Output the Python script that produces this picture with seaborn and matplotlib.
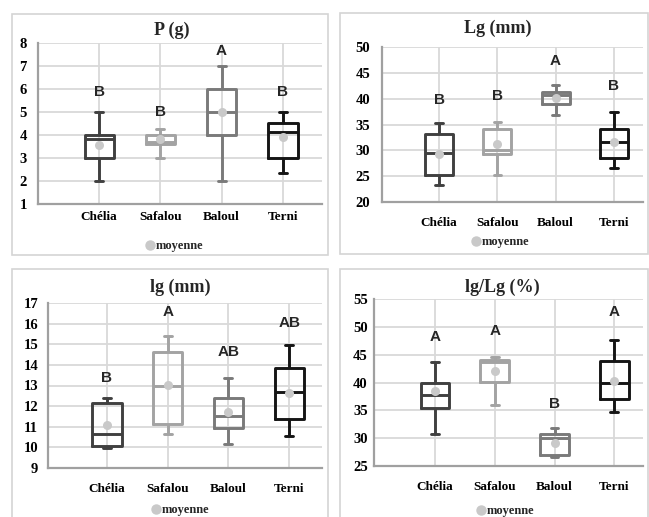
import matplotlib
matplotlib.use("Agg")
import matplotlib.pyplot as plt
from matplotlib.lines import Line2D
from matplotlib.patches import Rectangle
import numpy as np
import pandas as pd
import seaborn as sns

sns.set_style("white")
plt.rcParams["font.family"] = ["Liberation Serif", "DejaVu Serif"]

W, H = 649, 517

cultivars = ["Chélia", "Safalou", "Baloul", "Terni"]
colors = ["#404040", "#a3a3a3", "#7a7a7a", "#151515"]
mean_color = "#c9c9c9"

# five-number summaries: whisker low, Q1, median, Q3, whisker high
p_low = [2.0, 3.0, 2.0, 2.36]
p_q1 = [3.0, 3.6, 4.0, 3.0]
p_med = [3.82, 3.7, 5.0, 4.13]
p_q3 = [4.0, 4.0, 6.0, 4.5]
p_high = [5.0, 4.27, 7.0, 5.0]
p_mean = [3.57, 3.84, 5.0, 3.93]
p_letters = ["B", "B", "A", "B"]
p_letter_y = [5.87, 5.0, 7.64, 5.87]

Lg_low = [23.2, 25.2, 36.9, 26.6]
Lg_q1 = [25.2, 29.2, 39.0, 28.6]
Lg_med = [29.5, 30.0, 40.7, 31.7]
Lg_q3 = [33.2, 34.1, 41.3, 34.1]
Lg_high = [35.2, 35.5, 42.7, 37.5]
Lg_mean = [29.2, 31.2, 40.2, 31.6]
Lg_letters = ["B", "B", "A", "B"]
Lg_letter_y = [39.8, 40.5, 47.2, 42.5]

lg_low = [9.97, 10.64, 10.18, 10.57]
lg_q1 = [10.07, 11.12, 10.94, 11.37]
lg_med = [10.64, 12.97, 11.54, 12.67]
lg_q3 = [12.13, 14.61, 12.41, 13.83]
lg_high = [12.37, 15.38, 13.35, 14.94]
lg_mean = [11.07, 13.02, 11.72, 12.65]
lg_letters = ["B", "A", "AB", "AB"]
lg_letter_y = [13.38, 16.55, 14.64, 16.03]

r_low = [30.8, 35.9, 26.6, 34.7]
r_q1 = [35.5, 40.1, 27.0, 37.1]
r_med = [37.7, 43.6, 30.0, 40.0]
r_q3 = [40.0, 44.0, 30.7, 43.9]
r_high = [43.6, 44.5, 31.8, 47.7]
r_mean = [38.5, 42.0, 29.2, 40.3]
r_letters = ["A", "A", "B", "A"]
r_letter_y = [48.1, 49.3, 36.2, 52.7]

panels = [
    dict(title="P (g)", stats=(p_low, p_q1, p_med, p_q3, p_high), mean=p_mean,
         letters=p_letters, letter_y=p_letter_y, ylim=(1, 8), yticks=np.arange(1, 9, 1),
         frame=(12, 14, 328, 255), axes=(38, 43, 322, 204), xlim=(-1.0, 3.64),
         title_xy=(172, 30), legend_xy=(174, 246), xpad=5, ypad=8),
    dict(title="Lg (mm)", stats=(Lg_low, Lg_q1, Lg_med, Lg_q3, Lg_high), mean=Lg_mean,
         letters=Lg_letters, letter_y=Lg_letter_y, ylim=(20, 50), yticks=np.arange(20, 51, 5),
         frame=(340, 13, 648, 254), axes=(382, 47, 643, 202), xlim=(-0.98, 3.5),
         title_xy=(498, 28), legend_xy=(500, 242), xpad=11, ypad=8.5),
    dict(title="lg (mm)", stats=(lg_low, lg_q1, lg_med, lg_q3, lg_high), mean=lg_mean,
         letters=lg_letters, letter_y=lg_letter_y, ylim=(9, 17), yticks=np.arange(9, 18, 1),
         frame=(12, 269, 328, 530), axes=(48, 303, 322, 468), xlim=(-0.97, 3.54),
         title_xy=(180, 287), legend_xy=(180, 510), xpad=11, ypad=7),
    dict(title="lg/Lg (%)", stats=(r_low, r_q1, r_med, r_q3, r_high), mean=r_mean,
         letters=r_letters, letter_y=r_letter_y, ylim=(25, 55), yticks=np.arange(25, 56, 5),
         frame=(340, 269, 648, 530), axes=(374, 299, 643, 466), xlim=(-1.02, 3.48),
         title_xy=(502, 287), legend_xy=(505, 511), xpad=11, ypad=4.5),
]

fig = plt.figure(figsize=(W / 100, H / 100), dpi=100)

serif_bold = dict(family=["Liberation Serif", "DejaVu Serif"], weight="bold")
sans_bold = dict(family=["Liberation Sans", "DejaVu Sans"], weight="bold")

for p in panels:
    x0, y0, x1, y1 = p["frame"]
    fig.patches.append(Rectangle((x0 / W, 1 - y1 / H), (x1 - x0) / W, (y1 - y0) / H,
                                 transform=fig.transFigure, fill=False,
                                 ec="#d4d4d4", lw=1.2, zorder=0))
    l, t, r, b = p["axes"]
    ax = fig.add_axes([l / W, 1 - b / H, (r - l) / W, (b - t) / H])
    ax.patch.set_alpha(0)

    rows = []
    for i, c in enumerate(cultivars):
        for s in p["stats"]:
            rows.append((c, s[i]))
    df = pd.DataFrame(rows, columns=["cultivar", "value"])

    sns.boxplot(data=df, x="cultivar", y="value", hue="cultivar", order=cultivars,
                hue_order=cultivars, palette=colors, fill=False, whis=(0, 100),
                showfliers=False, width=0.48, linewidth=2.1, legend=False,
                capwidths=0.13, ax=ax)
    sns.stripplot(x=cultivars, y=p["mean"], order=cultivars, jitter=False,
                  color=mean_color, size=6.5, linewidth=0, zorder=4, ax=ax)

    for i, (lab, ly) in enumerate(zip(p["letters"], p["letter_y"])):
        ax.text(i, ly, lab, ha="center", va="center", size=11, **sans_bold)

    ax.set_xlim(*p["xlim"])
    ax.set_ylim(*p["ylim"])
    ax.set_yticks(p["yticks"])
    ax.set_xticks(range(len(cultivars)))
    ax.set_xticklabels(cultivars)
    ax.set_xlabel("")
    ax.set_ylabel("")
    ax.grid(True, color="#d9d9d9", lw=1.3)
    ax.set_axisbelow(True)
    for side in ("top", "right"):
        ax.spines[side].set_visible(False)
    for side in ("left", "bottom"):
        ax.spines[side].set_color("#a0a0a0")
        ax.spines[side].set_linewidth(1.6)
    ax.tick_params(axis="both", length=0, colors="#000000")
    ax.tick_params(axis="x", pad=p["xpad"])
    ax.tick_params(axis="y", pad=p["ypad"])
    for lab in ax.get_xticklabels():
        lab.set_fontsize(9.5)
        lab.set_fontweight("bold")
    for lab in ax.get_yticklabels():
        lab.set_fontsize(10.5)
        lab.set_fontweight("bold")

    tx, ty = p["title_xy"]
    fig.text(tx / W, 1 - ty / H, p["title"], ha="center", va="center", size=13, **serif_bold)

    lx, ly = p["legend_xy"]
    handle = Line2D([], [], marker="o", ls="", color=mean_color, markersize=6.5)
    fig.legend(handles=[handle], labels=["moyenne"], loc="center",
               bbox_to_anchor=(lx / W, 1 - ly / H), frameon=False,
               handlelength=0.8, handletextpad=0.1, borderpad=0,
               prop=dict(family="Liberation Serif", weight="bold", size=9))

fig.savefig("out.png", dpi=100)
